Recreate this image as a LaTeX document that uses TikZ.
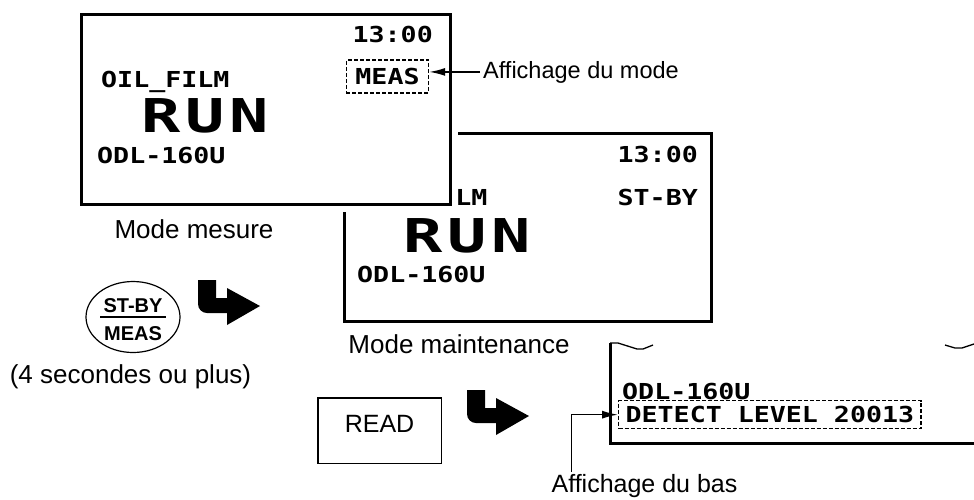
\documentclass[tikz,border=0pt]{standalone}
\usepackage{fontspec}
\setmainfont{Liberation Sans}
\newfontfamily\lcdfont{DejaVu Sans Mono}[FakeStretch=1.21]
\newfontfamily\lcdwide{DejaVu Sans Mono}[FakeStretch=1.4]
\newcommand\runword{R\hspace{5pt}U\hspace{5pt}N}
\usetikzlibrary{arrows.meta, positioning, shapes.geometric}

\begin{document}
\begin{tikzpicture}[
    x=1pt, y=-1pt,
    frame/.style={draw, line width=3pt},
    lcd/.style={inner sep=0pt, font=\lcdfont\bfseries\fontsize{22}{22}\selectfont},
    lcdbig/.style={inner sep=0pt, font=\lcdwide\bfseries\fontsize{46.6}{46.6}\selectfont},
    dashbox/.style={draw, line width=1.3pt, dash pattern=on 4pt off 2pt,
                    inner xsep=9pt, inner ysep=8.5pt, text height=16pt, text depth=0pt},
    caption/.style={inner sep=0pt, font=\fontsize{26}{26}\selectfont},
    keytext/.style={inner sep=0pt, font=\bfseries\fontsize{20}{20}\selectfont},
    ptr/.style={-{Latex[length=16pt, width=8pt]}, line width=1.5pt},
    bentarrow/.pic={
      \fill (0,0) -- (18,0) -- (18,18) -- (29,18) -- (29,8) -- (62,26)
            -- (29,45) -- (29,33) [rounded corners=9pt] -- (0,33) [sharp corners] -- cycle;
    }
  ]
    \useasboundingbox (0,0) rectangle (974,499);

    % maintenance screen (behind)
    \node[frame, minimum width=367pt, minimum height=188pt, anchor=north west] (scrB) at (343,132) {};
    \node[lcd, anchor=base east] (timeB)  at (698,162) {13:00};
    \node[lcd, anchor=base east] (stateB) at (698,205) {ST-BY};
    \node[lcd, anchor=base west] (oilB)   at (359,205) {OIL\_FILM};
    \node[lcdbig, anchor=base]   (runB)   at (467,252) {\runword};
    \node[lcd, anchor=base west] (odlB)   at (357,282) {ODL-160U};
    \node[caption, anchor=base] (maintCap) at (459,353) {Mode maintenance};

    % measuring screen (front)
    \node[frame, fill=white, preaction={draw=white, line width=14pt},
          minimum width=369pt, minimum height=190pt, anchor=north west] (scrA) at (80,13) {};
    \node[lcd, anchor=base east] (timeA) at (433,42) {13:00};
    \node[lcd, anchor=base west] (oilA)  at (101,87) {OIL\_FILM};
    \node[lcd, dashbox]          (meas)  at (387.5,76.5) {MEAS};
    \node[lcdbig, anchor=base]   (runA)  at (205,132) {\runword};
    \node[lcd, anchor=base west] (odlA)  at (97,163) {ODL-160U};
    \node[caption, anchor=base] (measCap) at (194,238) {Mode mesure};

    \node[anchor=base west, inner sep=0pt, font=\fontsize{23.5}{23.5}\selectfont] (modeLbl) at (483,78) {Affichage du mode};
    \draw[ptr] ([xshift=-3pt]modeLbl.west) -- (modeLbl.west -| meas.east);

    % key ST-BY / MEAS
    \node[ellipse, draw, line width=1.2pt, minimum width=94pt, minimum height=71pt] (stby) at (133,317) {};
    \node[keytext, anchor=base] (stbyTop) at (133,312) {ST-BY};
    \node[keytext, anchor=base] (stbyBot) at (133,340) {MEAS};
    \draw[line width=1.2pt] ([xshift=-33pt]stby.center) -- ([xshift=33pt]stby.center);
    \node[caption, anchor=base] (holdCap) at (130.5,383) {(4 secondes ou plus)};
    \pic (turnA) at (198,280) {bentarrow};

    % key READ
    \node[draw, line width=1.5pt, minimum width=123.5pt, minimum height=65.5pt,
          text height=18pt, text depth=15pt, font=\fontsize{25}{25}\selectfont] (readKey) at (379.5,430.5) {READ};
    \pic (turnB) at (467,390) {bentarrow};

    % lower display, cut off
    \draw[frame] (610,343) |- (974,443);
    \draw[line width=1.3pt] (610,343) -- (618,343) -- (637,349) -- (643,349) -- (653,345);
    \draw[line width=1.3pt] (945,345) -- (955,348) -- (962,348) -- (974,344);
    \node[lcd, anchor=base west] (odlC) at (622,399) {ODL-160U};
    \node[lcd, dashbox, inner xsep=7pt, inner ysep=6pt, anchor=north west] (detect) at (618,400) {DETECT LEVEL 20013};

    \node[anchor=base, inner sep=0pt, font=\fontsize{25}{25}\selectfont] (basLbl) at (644.5,492) {Affichage du bas};
    \draw[ptr] ([xshift=20pt, yshift=2pt]basLbl.north west) |- (detect.west);
\end{tikzpicture}
\end{document}
